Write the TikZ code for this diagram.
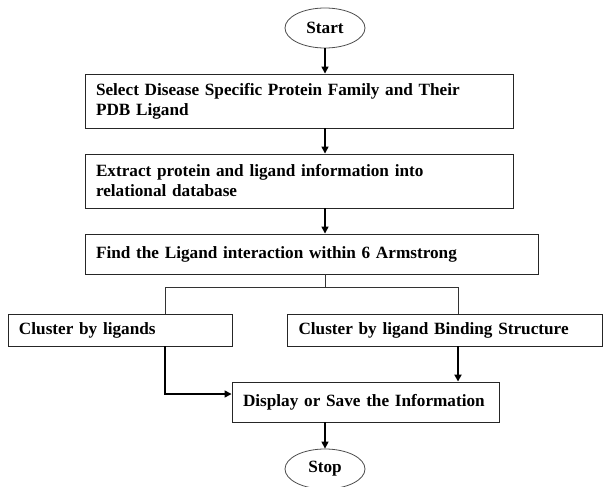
\documentclass[tikz,border=0pt]{standalone}
\usepackage{fontspec}
\setmainfont{Liberation Serif}
\usetikzlibrary{arrows.meta,shapes.geometric}
\begin{document}
\begin{tikzpicture}[x=1pt,y=-1pt,
  every node/.style={font=\bfseries\fontsize{17.2}{20}\selectfont},
  box/.style={draw=black!85,line width=0.9pt,rectangle,inner xsep=11pt,inner ysep=0pt,align=left,anchor=center},
  term/.style={draw=black!70,line width=0.8pt,ellipse,minimum width=80pt,minimum height=40pt,inner sep=0pt},
  arr/.style={line width=1.4pt,-{Triangle[length=7pt,width=7pt]}},
  thin/.style={line width=0.9pt,draw=black!80}]
\useasboundingbox (0,0) rectangle (603,487);
\node[term] (start) at (325,28) {Start};
\node[box,minimum width=428pt,minimum height=54pt,text width=406pt] (b1) at (299,101)
  {Select Disease Specific Protein Family and Their\\PDB Ligand};
\node[box,minimum width=428pt,minimum height=54pt,text width=406pt] (b2) at (299,181)
  {Extract protein and ligand information into\\relational database};
\node[box,minimum width=453pt,minimum height=40pt,text width=431pt] (b3) at (311.5,254)
  {Find the Ligand interaction within 6 Armstrong};
\node[box,minimum width=224pt,minimum height=32pt,text width=202pt] (b4) at (120,330)
  {Cluster by ligands};
\node[box,minimum width=315pt,minimum height=32pt,text width=293pt] (b5) at (445,330)
  {Cluster by ligand Binding Structure};
\node[box,minimum width=267pt,minimum height=40pt,text width=245pt] (b6) at (365.5,402)
  {Display or Save the Information};
\node[term] (stop) at (325,469) {Stop};
\coordinate (split) at (325,287);
\coordinate (lj) at (165,287);
\coordinate (rj) at (458,287);
\draw[arr] (start.south) -- (start.south |- b1.north);
\draw[arr] (start.south |- b1.south) -- (start.south |- b2.north);
\draw[arr] (start.south |- b2.south) -- (start.south |- b3.north);
\draw[thin] (start.south |- b3.south) -- (split);
\draw[thin] (lj |- b4.north) -- (lj) -- (rj) -- (rj |- b5.north);
\draw[arr] (lj |- b4.south) |- ([yshift=8pt]b6.west);
\draw[arr,line width=2.2pt] (rj |- b5.south) -- (rj |- b6.north);
\draw[arr] (start.south |- b6.south) -- (stop.north);
\end{tikzpicture}
\end{document}
